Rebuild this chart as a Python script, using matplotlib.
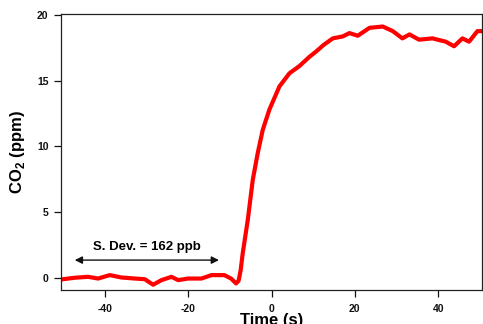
import matplotlib
matplotlib.use('Agg')
import matplotlib.pyplot as plt

plt.rcParams['font.family'] = ['Liberation Sans', 'DejaVu Sans']
plt.rcParams['font.weight'] = 'bold'
plt.rcParams['axes.unicode_minus'] = False
plt.rcParams['mathtext.fontset'] = 'custom'
plt.rcParams['mathtext.bf'] = 'Liberation Sans:bold'

# values
time_s = [-50.5, -47.2, -44.0, -41.6, -38.8, -36.0, -32.8, -30.4, -28.4, -26.4,
          -24.0, -22.4, -20.0, -16.8, -14.4, -11.3, -9.7, -8.5, -7.9, -7.4, -6.9,
          -5.7, -4.5, -3.3, -2.1, -0.5, 1.9, 4.3, 6.7, 9.1, 10.7,
          12.5, 14.7, 17.1, 18.7, 20.7, 23.5, 26.7, 29.1, 31.4, 33.1,
          35.4, 38.6, 41.8, 43.8, 45.8, 47.4, 49.4, 50.5]
co2_ppm = [-0.1, 0.03, 0.1, -0.03, 0.23, 0.05, -0.03, -0.08, -0.5, -0.15,
           0.1, -0.15, -0.03, -0.03, 0.23, 0.23, -0.03, -0.4, -0.2, 0.6, 1.9,
           4.4, 7.45, 9.5, 11.25, 12.8, 14.55, 15.55, 16.1, 16.8, 17.2,
           17.7, 18.2, 18.35, 18.6, 18.4, 19.0, 19.1, 18.75, 18.2, 18.5,
           18.1, 18.2, 17.95, 17.6, 18.2, 17.95, 18.75, 18.75]

x_ticks = [-40, -20, 0, 20, 40]
y_ticks = [0, 5, 10, 15, 20]
sdev_label = 'S. Dev. = 162 ppb'
sdev_span = (-47.2, -12.6)

fig = plt.figure(figsize=(4.83, 3.24), dpi=100)
ax = fig.add_axes([61 / 483, 34 / 324, 421 / 483, 276 / 324])

ax.plot(time_s, co2_ppm, color='#ff0000', lw=3, solid_joinstyle='round')

ax.set_xlim(-50.5, 50.5)
ax.set_ylim(-0.9, 20.05)
ax.set_xticks(x_ticks)
ax.set_yticks(y_ticks)
ax.tick_params(direction='out', length=5, width=0.9, labelsize=7.5, colors='#111111')
ax.tick_params(axis='x', pad=5)
ax.tick_params(axis='y', pad=4)
for s in ax.spines.values():
    s.set_linewidth(0.9)
    s.set_color('#222222')

ax.set_xlabel('Time (s)', fontsize=12, fontweight='bold', labelpad=-1)
ax.set_ylabel('CO$_\\mathbf{2}$ (ppm)', fontsize=12, fontweight='bold', labelpad=7)

ax.annotate('', xy=(sdev_span[0], 1.37), xytext=(sdev_span[1], 1.37),
            arrowprops=dict(arrowstyle='<|-|>', color='#111111', lw=1,
                            mutation_scale=11, shrinkA=0, shrinkB=0))
ax.text(sum(sdev_span) / 2, 2.1, sdev_label, ha='center', va='baseline',
        fontsize=9.5, fontweight='bold')

fig.savefig('out.png', dpi=100)
